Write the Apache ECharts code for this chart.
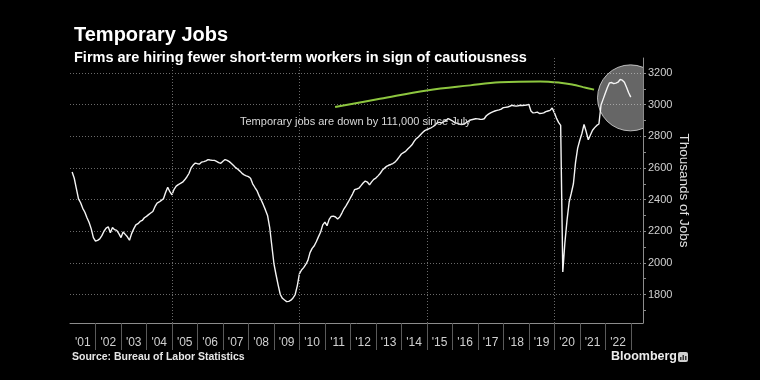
<!DOCTYPE html>
<html>
<head>
<meta charset="utf-8">
<script src="https://cdn.jsdelivr.net/npm/echarts@6/dist/echarts.min.js"></script>
<style>
html,body{margin:0;padding:0;background:#000;}
#chart{width:760px;height:380px;}
</style>
</head>
<body>
<div id="chart"></div>
<script>
// ---- Data (thousands of jobs, monthly, Jan 2001 - Dec 2022) ----
const startYear = 2001;
const tempJobs = [
  2575, 2535, 2470, 2405, 2380, 2345, 2320, 2285, 2255, 2215, 2160, 2138, // 2001
  2142, 2152, 2172, 2200, 2220, 2228, 2190, 2223, 2210, 2205, 2185, 2160, // 2002
  2195, 2180, 2165, 2143, 2185, 2215, 2240, 2248, 2262, 2268, 2285, 2294, // 2003
  2305, 2315, 2325, 2355, 2378, 2385, 2395, 2405, 2445, 2478, 2450, 2430, // 2004
  2465, 2485, 2495, 2502, 2510, 2525, 2543, 2565, 2600, 2618, 2631, 2627, // 2005
  2625, 2637, 2640, 2645, 2653, 2650, 2648, 2648, 2642, 2634, 2630, 2642, // 2006
  2653, 2648, 2640, 2628, 2615, 2602, 2592, 2580, 2566, 2556, 2550, 2545, // 2007
  2535, 2500, 2478, 2457, 2425, 2398, 2368, 2335, 2300, 2225, 2110, 1996, // 2008
  1925, 1860, 1800, 1776, 1765, 1755, 1757, 1764, 1778, 1800, 1855, 1930, // 2009
  1955, 1970, 1990, 2016, 2065, 2092, 2108, 2135, 2166, 2195, 2240, 2258, // 2010
  2235, 2275, 2294, 2295, 2290, 2278, 2290, 2315, 2342, 2362, 2385, 2410, // 2011
  2435, 2463, 2467, 2472, 2488, 2505, 2517, 2511, 2493, 2512, 2528, 2536, // 2012
  2550, 2565, 2585, 2598, 2610, 2617, 2622, 2628, 2637, 2652, 2670, 2688, // 2013
  2697, 2705, 2720, 2732, 2746, 2768, 2785, 2796, 2810, 2824, 2836, 2843, // 2014
  2848, 2854, 2862, 2872, 2888, 2888, 2884, 2893, 2900, 2912, 2905, 2898, // 2015
  2888, 2883, 2879, 2875, 2876, 2881, 2892, 2899, 2905, 2908, 2911, 2910, // 2016
  2908, 2907, 2911, 2930, 2940, 2948, 2955, 2960, 2964, 2967, 2972, 2981, // 2017
  2983, 2985, 2990, 2996, 2993, 2991, 2993, 2996, 2995, 2996, 2997, 3002, // 2018
  2960, 2948, 2950, 2953, 2944, 2945, 2948, 2956, 2960, 2964, 2979, 2950, // 2019
  2915, 2888, 2869, 1943, 2130, 2270, 2385, 2440, 2500, 2635, 2725, 2775, // 2020
  2818, 2875, 2830, 2778, 2808, 2838, 2855, 2869, 2878, 2998, 3035, 3072, // 2021
  3108, 3138, 3140, 3133, 3136, 3142, 3159, 3155, 3142, 3110, 3075, 3048  // 2022
];

// Axis ticks / labels
const axisYears = [2001, 2002, 2003, 2004, 2005, 2006, 2007, 2008, 2009, 2010, 2011,
                   2012, 2013, 2014, 2015, 2016, 2017, 2018, 2019, 2020, 2021, 2022];
const yearLabels = ["'01", "'02", "'03", "'04", "'05", "'06", "'07", "'08", "'09", "'10", "'11",
                    "'12", "'13", "'14", "'15", "'16", "'17", "'18", "'19", "'20", "'21", "'22"];
const yearDividers = [2002, 2003, 2004, 2005, 2006, 2007, 2008, 2009, 2010, 2011, 2012,
                      2013, 2014, 2015, 2016, 2017, 2018, 2019, 2020, 2021, 2022, 2023];
const gridYears = [2005, 2010, 2015, 2020];
const yLabels = [1800, 2000, 2200, 2400, 2600, 2800, 3000, 3200];
const yMinorTicks = [1700, 1800, 1900, 2000, 2100, 2200, 2300, 2400, 2500, 2600, 2700,
                     2800, 2900, 3000, 3100, 3200];
const yRange = [1620, 3295];
const xRange = [2001, 2023.48];

// Annotation arc (year, thousands) and highlight circle centre
const arcPoints = [
  [2011.40, 2985], [2013.16, 3037], [2015.00, 3090], [2016.70, 3122], [2017.87, 3141],
  [2019.44, 3147], [2020.23, 3139], [2020.74, 3126], [2021.13, 3111], [2021.56, 3095]
];
const circleCenter = [2022.99, 3043];

const annotationText = 'Temporary jobs are down by 111,000 since July';
const titleText = 'Temporary Jobs';
const subtitleText = 'Firms are hiring fewer short-term workers in sign of cautiousness';
const sourceText = 'Source: Bureau of Labor Statistics';

// ---- Chart ----
const FONT = '"Liberation Sans", Arial, sans-serif';
const lineData = tempJobs.map((v, i) => [startYear + (i + 1) / 12, v]);
const labelPositions = axisYears.map(y => y + 0.5);

const chart = echarts.init(document.getElementById('chart'), null, {renderer: 'canvas'});
chart.setOption({
  backgroundColor: '#000',
  animation: false,
  textStyle: {fontFamily: FONT},
  title: [
    {text: titleText, left: 69, top: 20,
     textStyle: {color: '#fff', fontSize: 20, fontWeight: 'bold', fontFamily: FONT}},
    {text: subtitleText, left: 69, top: 45,
     textStyle: {color: '#fff', fontSize: 14.5, fontWeight: 'bold', fontFamily: FONT}}
  ],
  grid: {left: 70, right: 117, top: 58, bottom: 57},
  xAxis: {
    type: 'value', min: xRange[0], max: xRange[1],
    axisLine: {show: true, lineStyle: {color: '#8c8c8c', width: 1}},
    axisTick: {show: true, customValues: yearDividers, length: 27, lineStyle: {color: '#5a5a5a'}},
    axisLabel: {
      customValues: labelPositions, color: '#d0d0d0', fontSize: 12, margin: 14, fontFamily: FONT,
      formatter: v => yearLabels[Math.floor(v) - startYear] || ''
    },
    splitLine: {show: false}
  },
  yAxis: [
    {
      type: 'value', position: 'right', min: yRange[0], max: yRange[1],
      axisLine: {show: true, lineStyle: {color: '#8c8c8c'}},
      axisTick: {show: false, customValues: yLabels},
      axisLabel: {customValues: yLabels, color: '#d0d0d0', fontSize: 11, margin: 5, fontFamily: FONT,
                  formatter: v => String(v)},
      splitLine: {show: true, lineStyle: {color: '#6a6a6a', type: [1, 2], width: 1}},
      name: 'Thousands of Jobs', nameLocation: 'middle', nameRotate: -90, nameGap: 34,
      nameMoveOverlap: false,
      nameTextStyle: {color: '#e0e0e0', fontSize: 13.5, fontFamily: FONT}
    },
    {
      type: 'value', position: 'right', min: yRange[0], max: yRange[1],
      axisLine: {show: false},
      axisTick: {show: true, customValues: yMinorTicks, length: 3, lineStyle: {color: '#8c8c8c'}},
      axisLabel: {show: false},
      splitLine: {show: false}
    }
  ],
  series: [
    {
      type: 'custom', z: 1, clip: true, silent: true,
      data: [circleCenter],
      renderItem: (params, api) => {
        const p = api.coord([api.value(0), api.value(1)]);
        return {type: 'circle', shape: {cx: p[0], cy: p[1], r: 33},
                style: {fill: 'rgba(255,255,255,0.40)', stroke: 'rgba(220,220,220,0.8)', lineWidth: 1}};
      }
    },
    {
      type: 'line', z: 3, data: lineData, showSymbol: false, clip: true,
      lineStyle: {color: '#f4f4f4', width: 1.4},
      markLine: {
        silent: true, symbol: 'none', label: {show: false},
        lineStyle: {color: '#6a6a6a', type: [1, 2], width: 1},
        data: gridYears.map(y => ({xAxis: y}))
      }
    },
    {
      type: 'line', z: 3, data: arcPoints, smooth: 0.4, showSymbol: false,
      lineStyle: {color: '#8dc63f', width: 2}
    }
  ],
  graphic: [
    {type: 'text', left: 240, top: 116, z: 10,
     style: {text: annotationText, fill: '#d8d8d8', font: '11px ' + FONT}},
    {type: 'text', left: 72, top: 352,
     style: {text: sourceText, fill: '#e6e6e6', font: 'bold 10.5px ' + FONT}},
    {type: 'text', left: 611, top: 350,
     style: {text: 'Bloomberg', fill: '#ececec', font: 'bold 12.5px ' + FONT}},
    {type: 'rect', left: 678, top: 352, shape: {width: 10, height: 10, r: 2}, style: {fill: '#cfcfcf'}},
    {type: 'rect', left: 680, top: 357, shape: {width: 1.5, height: 3}, style: {fill: '#333'}},
    {type: 'rect', left: 682.5, top: 355, shape: {width: 1.5, height: 5}, style: {fill: '#333'}},
    {type: 'rect', left: 685, top: 356, shape: {width: 1.5, height: 4}, style: {fill: '#333'}}
  ]
});
</script>
</body>
</html>
